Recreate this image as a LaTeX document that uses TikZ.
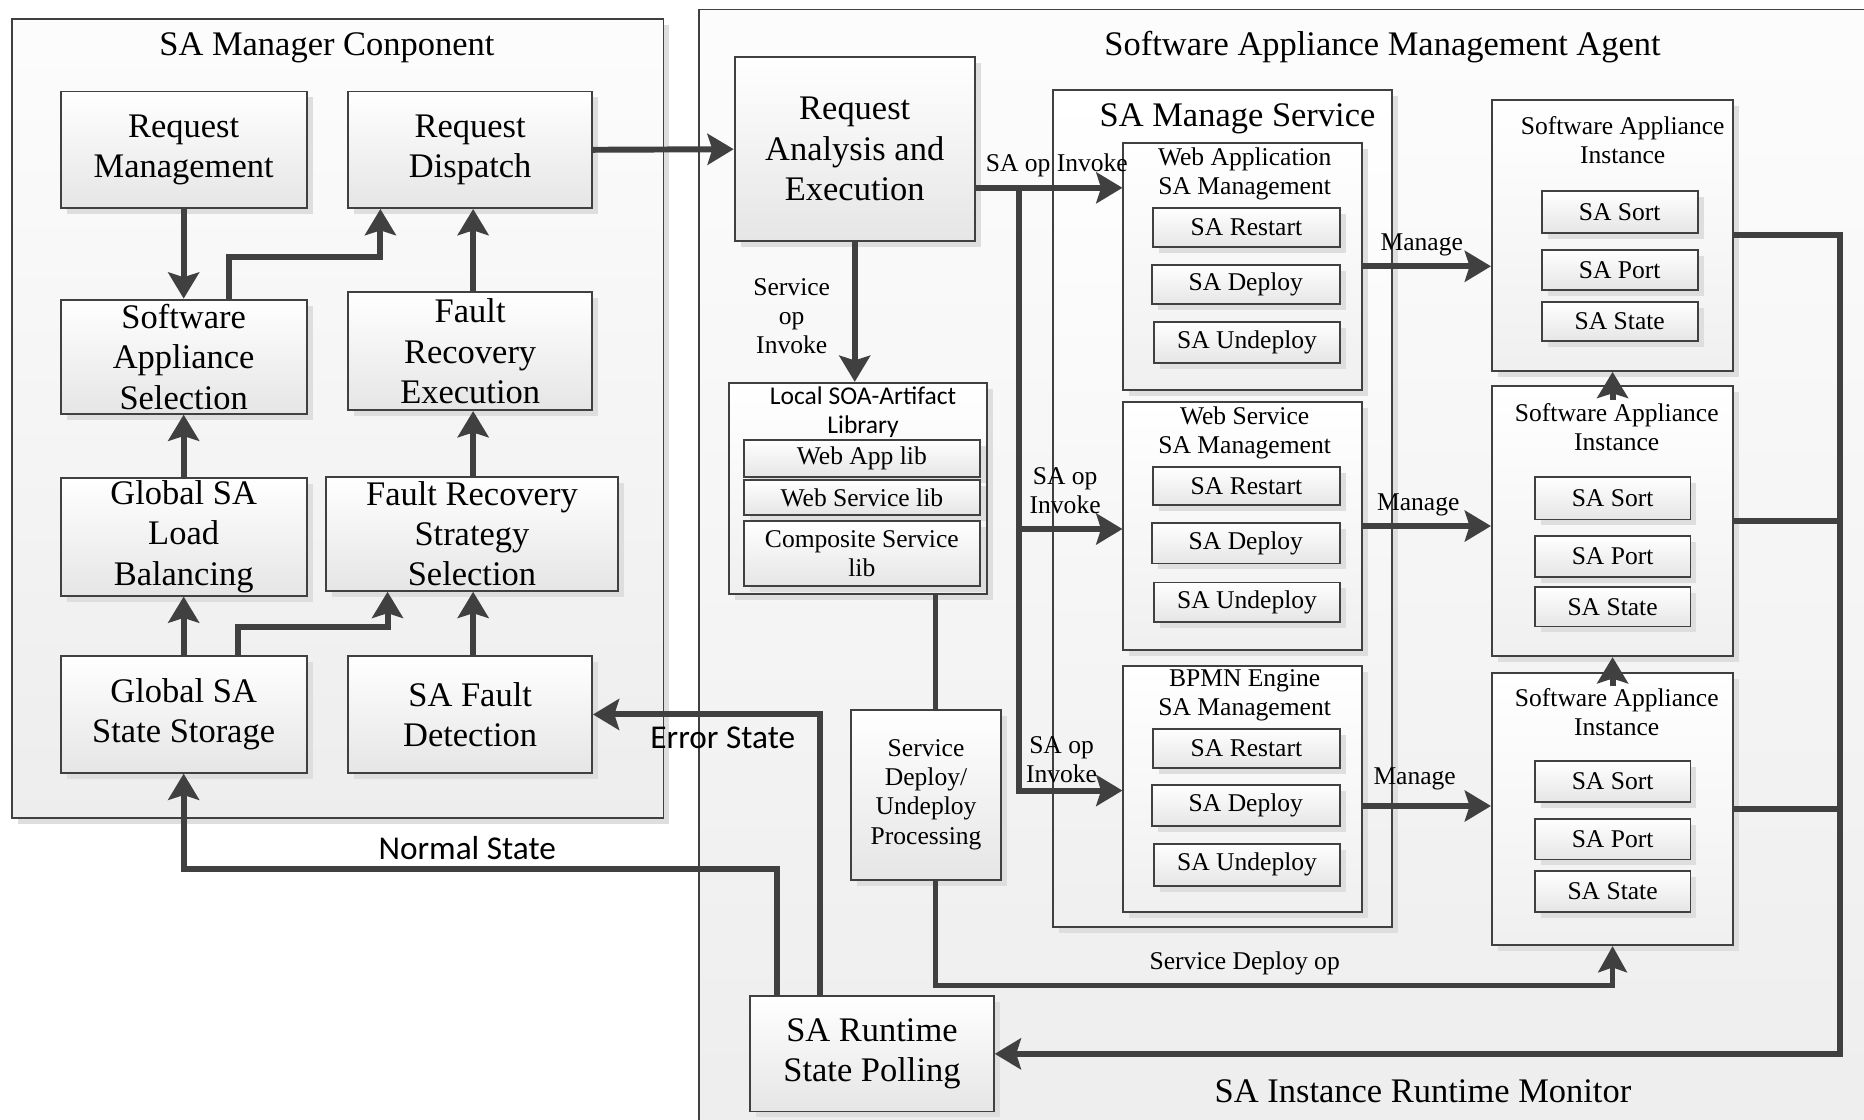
\documentclass[tikz,border=0pt]{standalone}
\usepackage{fontspec}
\setmainfont{Liberation Serif}
\newfontfamily\calfont{Carlito}
\usetikzlibrary{arrows.meta,shadows,calc}
\definecolor{ln}{HTML}{404040}
\newcommand\fbig{\fontsize{29pt}{34pt}\selectfont}
\newcommand\fsml{\fontsize{21.5pt}{24.5pt}\selectfont}
\newcommand\mybox[7]{\node[#6,minimum width={(#4-#2)*1pt},minimum height={(#5-#3)*1pt}] (#1) at ({(#2+#4)/2},{(#3+#5)/2}) {#7};}
\tikzset{
  shad/.style={drop shadow={shadow xshift=5pt,shadow yshift=-5pt,fill=black!13,opacity=1}},
  bx/.style={draw=ln, line width=1.6pt, top color=white, bottom color=black!10, shad, inner sep=0pt, align=center},
  lbx/.style={draw=ln, line width=1.6pt, top color=white, bottom color=black!6, shad, inner sep=0pt},
  cont/.style={draw=ln, line width=1.4pt, top color=black!1, bottom color=black!7, inner sep=0pt},
  conn/.style={draw=ln, line width=5pt, -{Stealth[length=22pt,width=26pt,inset=4pt]}},
  conns/.style={draw=ln, line width=4.5pt, -{Stealth[length=22pt,width=24pt,inset=4pt]}},
  plainln/.style={draw=ln, line width=3.5pt},
  lbl/.style={inner sep=0pt, align=center},
}
\begin{document}
\begin{tikzpicture}[x=1pt,y=-1pt]
\fill[white] (0,0) rectangle (1568,942);
\useasboundingbox (0,0) rectangle (1568,942);
\clip (0,0) rectangle (1568,942);

% containers
\mybox{mgr}{10}{16}{558}{688}{cont,shad}{}
\node[lbl,font=\fbig] (mgrt) at (275,40) {SA Manager Conponent};
\mybox{agent}{588}{8}{1600}{970}{cont}{}
\node[lbl,font=\fbig] (agentt) at (1163,40) {Software Appliance Management Agent};

% left component boxes
\mybox{rm}{51}{77}{258}{175}{bx,font=\fbig}{Request\\Management}
\mybox{rd}{293}{77}{498}{175}{bx,font=\fbig}{Request\\Dispatch}
\mybox{sas}{51}{252}{258}{348}{bx,font=\fbig}{Software\\Appliance\\Selection}
\mybox{fre}{293}{246}{498}{345}{bx,font=\fbig}{Fault\\Recovery\\Execution}
\mybox{glb}{51}{402}{258}{501}{bx,font=\fbig}{Global SA\\Load\\Balancing}
\mybox{frss}{274}{401}{520}{497}{bx,font=\fbig}{Fault Recovery\\Strategy\\Selection}
\mybox{gss}{51}{552}{258}{650}{bx,font=\fbig}{Global SA\\State Storage}
\mybox{fd}{293}{552}{498}{650}{bx,font=\fbig}{SA Fault\\Detection}

% agent boxes
\mybox{rae}{618}{48}{820}{203}{bx,font=\fbig}{Request\\Analysis and\\Execution}
\mybox{lib}{613}{322}{830}{500}{lbx}{}
\node[lbl,font=\calfont\fsml] (libt) at (726,347) {Local SOA-Artifact\\Library};
\mybox{wal}{626}{370}{824}{401}{bx,font=\fsml}{Web App lib}
\mybox{wsl}{626}{404}{824}{433}{bx,font=\fsml}{Web Service lib}
\mybox{csl}{626}{438}{824}{493}{bx,font=\fsml}{Composite Service\\lib}
\mybox{sdp}{716}{597}{842}{740}{bx,font=\fsml}{Service\\Deploy/\\Undeploy\\Processing}
\mybox{srp}{631}{838}{836}{935}{bx,font=\fbig}{SA Runtime\\State Polling}

\mybox{sms}{886}{76}{1171}{780}{lbx}{}
\node[lbl,font=\fbig] (smst) at (1041,100) {SA Manage Service};

\mybox{wam}{945}{120}{1146}{328}{lbx}{}
\node[lbl,font=\fsml] (wamt) at (1047,146) {Web Application\\SA Management};
\mybox{wamr}{970}{175}{1127}{208}{bx,font=\fsml}{SA Restart}
\mybox{wamd}{969}{223}{1127}{256}{bx,font=\fsml}{SA Deploy}
\mybox{wamu}{971}{271}{1127}{305}{bx,font=\fsml}{SA Undeploy}

\mybox{wsm}{945}{338}{1146}{547}{lbx}{}
\node[lbl,font=\fsml] (wsmt) at (1047,364) {Web Service\\SA Management};
\mybox{wsmr}{970}{393}{1127}{425}{bx,font=\fsml}{SA Restart}
\mybox{wsmd}{969}{440}{1127}{474}{bx,font=\fsml}{SA Deploy}
\mybox{wsmu}{971}{490}{1127}{523}{bx,font=\fsml}{SA Undeploy}

\mybox{bpm}{945}{560}{1146}{767}{lbx}{}
\node[lbl,font=\fsml] (bpmt) at (1047,585) {BPMN Engine\\SA Management};
\mybox{bpmr}{970}{613}{1127}{646}{bx,font=\fsml}{SA Restart}
\mybox{bpmd}{969}{660}{1127}{695}{bx,font=\fsml}{SA Deploy}
\mybox{bpmu}{971}{710}{1127}{745}{bx,font=\fsml}{SA Undeploy}

% instances
\mybox{ia}{1255}{84}{1458}{312}{lbx}{}
\node[lbl,font=\fsml] (iat) at (1365,118) {Software Appliance\\Instance};
\mybox{iaso}{1297}{161}{1428}{196}{bx,font=\fsml}{SA Sort}
\mybox{iapo}{1297}{210}{1428}{244}{bx,font=\fsml}{SA Port}
\mybox{iast}{1297}{254}{1428}{287}{bx,font=\fsml}{SA State}

\mybox{ib}{1255}{325}{1458}{552}{lbx}{}
\node[lbl,font=\fsml] (ibt) at (1360,359) {Software Appliance\\Instance};
\mybox{ibso}{1291}{401}{1422}{437}{bx,font=\fsml}{SA Sort}
\mybox{ibpo}{1291}{451}{1422}{485}{bx,font=\fsml}{SA Port}
\mybox{ibst}{1291}{494}{1422}{527}{bx,font=\fsml}{SA State}

\mybox{ic}{1255}{566}{1458}{795}{lbx}{}
\node[lbl,font=\fsml] (ict) at (1360,599) {Software Appliance\\Instance};
\mybox{icso}{1291}{640}{1422}{675}{bx,font=\fsml}{SA Sort}
\mybox{icpo}{1291}{689}{1422}{723}{bx,font=\fsml}{SA Port}
\mybox{icst}{1291}{733}{1422}{767}{bx,font=\fsml}{SA State}

% connectors in manager component
\draw[conn] (rm.south) -- (sas.north);
\draw[conn] ([xshift=38.5pt]sas.north) |- ([xshift=-75.5pt,yshift=-40pt]rd.south) -- ([xshift=-75.5pt]rd.south);
\draw[conn] ([xshift=2.5pt]fre.north) -- ([xshift=2.5pt]rd.south);
\draw[conn] (glb.north) -- (sas.south);
\draw[conn] ([xshift=2.5pt]fre.south |- frss.north) -- ([xshift=2.5pt]fre.south);
\draw[conn] (gss.north) -- (glb.south);
\draw[conn] ([xshift=45.5pt]gss.north) |- ([xshift=-71pt,yshift=-30pt]frss.south) -- ([xshift=-71pt]frss.south);
\draw[conn] ([xshift=2.5pt]fd.north) -- ([xshift=2.5pt]fd.north |- frss.south);

% agent connectors
\draw[conn] (rd.east) -- (rae.west);
\draw[conn] (rae.south) -- (rae.south |- lib.north);
\draw[plainln] ([xshift=8pt]sdp.north |- lib.south) -- ([xshift=8pt]sdp.north);
\draw[conns] ([xshift=8pt]sdp.south) |- ([yshift=-33pt]ic.south) -- (ic.south);

\coordinate (opA) at (857,158);
\coordinate (opB) at (857,445);
\coordinate (opC) at (857,665);
\draw[conn] (rae.east |- opA) -- (opA -| wam.west);
\draw[conn] (opA) -- (opC) -- (opC -| bpm.west);
\draw[conn] (opB) -- (opB -| wsm.west);

\draw[conn] (wam.east) -- (wam.east -| ia.west);
\draw[conn] (wsm.east) -- (wsm.east -| ib.west);
\draw[conn] ([yshift=-14.5pt]bpm.east) -- ([yshift=-14.5pt]bpm.east -| ic.west);

\draw[conn] ([yshift=-12pt]ib.north) -- (ia.south);
\draw[conn] ([yshift=-12pt]ic.north) -- (ib.south);

\coordinate (mcorner) at (1548,886.5);
\draw[conn] (ia.east) -| (mcorner) -- (srp.east);
\draw[draw=ln,line width=5pt] (ib.east) -- (ib.east -| mcorner);
\draw[draw=ln,line width=5pt] (ic.east) -- (ic.east -| mcorner);

\draw[conn] ([xshift=-79.5pt]srp.north) |- ([yshift=-80pt]gss.south) -- (gss.south);
\draw[conn] ([xshift=-43.5pt]srp.north) |- (fd.east);

% labels
\node[lbl,font=\fsml] (l1) at (666,266) {Service\\op\\Invoke};
\node[lbl,font=\fsml] (l2) at (889,139) {SA op Invoke};
\node[lbl,font=\fsml] (l3) at (896,413) {SA op\\Invoke};
\node[lbl,font=\fsml] (l4) at (893,639) {SA op\\Invoke};
\node[lbl,font=\fsml] (m1) at (1196,206) {Manage};
\node[lbl,font=\fsml] (m2) at (1193,425) {Manage};
\node[lbl,font=\fsml] (m3) at (1190,655) {Manage};
\node[lbl,font=\fsml] (sdo) at (1047,810) {Service Deploy op};
\node[lbl,font=\fbig] (irm) at (1197,918) {SA Instance Runtime Monitor};
\node[lbl,font=\calfont\fontsize{28pt}{32pt}\selectfont] (ns) at (393,713) {Normal State};
\node[lbl,font=\calfont\fontsize{28pt}{32pt}\selectfont] (es) at (608,621) {Error State};
\end{tikzpicture}
\end{document}
